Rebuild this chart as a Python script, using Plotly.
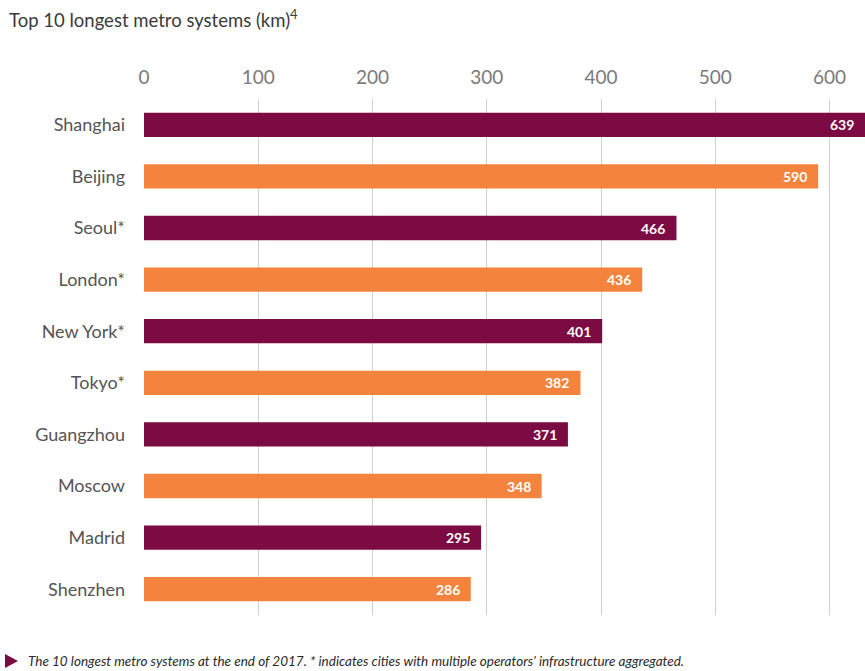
import plotly.graph_objects as go

cities = ["Shanghai", "Beijing", "Seoul*", "London*", "New York*", "Tokyo*",
          "Guangzhou", "Moscow", "Madrid", "Shenzhen"]
lengths_km = [639, 590, 466, 436, 401, 382, 371, 348, 295, 286]
tick_vals = [0, 100, 200, 300, 400, 500, 600]

MAROON = "#7B0B42"
ORANGE = "#F4843D"
colors = [MAROON if i % 2 == 0 else ORANGE for i in range(len(cities))]
XMAX = 631
FONT = "Lato, Open Sans, sans-serif"

fig = go.Figure(go.Bar(
    x=lengths_km, y=cities, orientation="h",
    marker=dict(color=colors, line=dict(width=0)),
    width=0.47,
    hoverinfo="x+y",
))

annotations = []
for c, v in zip(cities, lengths_km):
    annotations.append(dict(
        x=min(v, XMAX), y=c, xref="x", yref="y", text=f"<b>{v}</b>",
        showarrow=False, xanchor="right", xshift=-9,
        font=dict(color="white", size=14, family=FONT),
    ))

annotations.append(dict(
    x=0, y=1, xref="paper", yref="paper", xshift=-137, yshift=81,
    text="Top 10 longest metro systems (km)<sup>4</sup>", showarrow=False,
    xanchor="left", yanchor="middle",
    font=dict(size=18.5, color="#3a3a3a", family=FONT),
))
annotations.append(dict(
    x=0, y=0, xref="paper", yref="paper", xshift=-118, yshift=-46,
    text="<i>The 10 longest metro systems at the end of 2017. * indicates cities with multiple operators\u2019 infrastructure aggregated.</i>",
    showarrow=False, xanchor="left", yanchor="middle",
    font=dict(size=13.5, color="#2a2a2a", family=FONT),
))

# footnote marker triangle
shapes = [dict(
    type="path", xref="paper", yref="paper",
    xsizemode="pixel", ysizemode="pixel", xanchor=0, yanchor=0,
    path="M -139 -39 L -126 -46 L -139 -53 Z",
    fillcolor=MAROON, line=dict(width=0),
)]

fig.update_layout(
    width=865, height=671,
    margin=dict(l=144, r=0, t=99, b=56),
    paper_bgcolor="white", plot_bgcolor="white",
    showlegend=False,
    annotations=annotations,
    shapes=shapes,
    xaxis=dict(
        side="top", range=[0, XMAX], tickvals=tick_vals,
        showgrid=True, gridcolor="#cfcfcf", gridwidth=1,
        zeroline=False, showline=False, ticks="",
        tickfont=dict(size=19, color="#7a7a7a", family=FONT),
        ticklabelstandoff=10,
    ),
    yaxis=dict(
        autorange=False, range=[9.5, -0.5],
        categoryorder="array", categoryarray=cities,
        showgrid=False, zeroline=False, showline=False, ticks="",
        tickfont=dict(size=18, color="#555555", family=FONT),
        ticklabelstandoff=18,
    ),
)

fig.write_html(
    "out.html",
    config={"displayModeBar": False},
    post_script="document.body.style.margin='0';document.body.style.overflow='hidden';",
)
